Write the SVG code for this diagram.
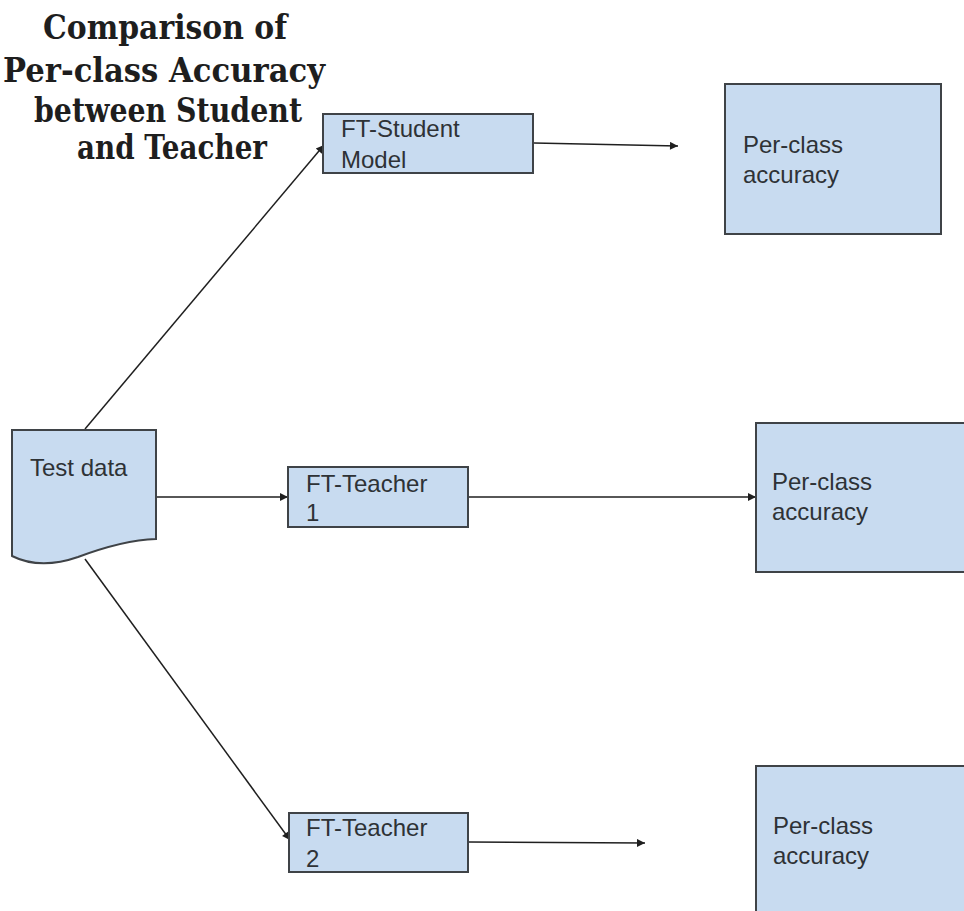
<svg xmlns="http://www.w3.org/2000/svg" width="964" height="911" viewBox="0 0 964 911">
  <defs>
    <marker id="arrow" viewBox="0 0 10 10" refX="10" refY="5" markerWidth="10" markerHeight="8" markerUnits="userSpaceOnUse" orient="auto">
      <path d="M0,0 L10,5 L0,10 Z" fill="#1f1f1f"/>
    </marker>
    <style>
      .box { fill: #c8dbf0; stroke: #3f4347; stroke-width: 2; }
      .lbl { font-family: "Liberation Sans", Arial, sans-serif; font-size: 24px; fill: #2e3236; }
      .title { font-family: "DejaVu Serif", "Liberation Serif", serif; font-weight: bold; font-size: 33px; fill: #1e1e1e; text-anchor: middle; }
      .edge { fill: none; stroke: #1f1f1f; stroke-width: 1.5; marker-end: url(#arrow); }
    </style>
  </defs>
  <rect width="964" height="911" fill="#ffffff"/>

  <!-- heading -->
  <g id="title">
    <text class="title" x="165" y="39" textLength="244" lengthAdjust="spacingAndGlyphs">Comparison of</text>
    <text class="title" x="164" y="82" textLength="322" lengthAdjust="spacingAndGlyphs">Per-class Accuracy</text>
    <text class="title" x="168" y="122" textLength="268" lengthAdjust="spacingAndGlyphs">between Student</text>
    <text class="title" x="172" y="159" textLength="190" lengthAdjust="spacingAndGlyphs">and Teacher</text>
  </g>

  <!-- connectors -->
  <g id="connectors">
    <line class="edge" x1="85" y1="429" x2="324" y2="145"/>
    <line class="edge" x1="157" y1="497" x2="288" y2="497"/>
    <line class="edge" x1="85" y1="559" x2="290" y2="840"/>
    <line class="edge" x1="534" y1="143" x2="678" y2="146"/>
    <line class="edge" x1="469" y1="497" x2="756" y2="497"/>
    <line class="edge" x1="469" y1="842" x2="645" y2="843"/>
  </g>

  <!-- source document -->
  <g id="test-data">
    <path class="box" d="M12,430 H156 V539 C128,540 102,548 78,557 C55,565 32,566 12,556 Z"/>
    <text class="lbl" x="30" y="476">Test data</text>
  </g>

  <!-- models -->
  <g id="ft-student">
    <rect class="box" x="323" y="114" width="210" height="59"/>
    <text class="lbl" x="341" y="137">FT-Student</text>
    <text class="lbl" x="341" y="168">Model</text>
  </g>
  <g id="ft-teacher-1">
    <rect class="box" x="288" y="467" width="180" height="60"/>
    <text class="lbl" x="306" y="492">FT-Teacher</text>
    <text class="lbl" x="306" y="521">1</text>
  </g>
  <g id="ft-teacher-2">
    <rect class="box" x="289" y="813" width="179" height="59"/>
    <text class="lbl" x="306" y="836">FT-Teacher</text>
    <text class="lbl" x="306" y="867">2</text>
  </g>

  <!-- results -->
  <g id="acc-student">
    <rect class="box" x="725" y="84" width="216" height="150"/>
    <text class="lbl" x="743" y="153">Per-class</text>
    <text class="lbl" x="743" y="183">accuracy</text>
  </g>
  <g id="acc-teacher-1">
    <rect class="box" x="756" y="423" width="220" height="149"/>
    <text class="lbl" x="772" y="490">Per-class</text>
    <text class="lbl" x="772" y="520">accuracy</text>
  </g>
  <g id="acc-teacher-2">
    <rect class="box" x="756" y="766" width="220" height="160"/>
    <text class="lbl" x="773" y="834">Per-class</text>
    <text class="lbl" x="773" y="864">accuracy</text>
  </g>
</svg>
